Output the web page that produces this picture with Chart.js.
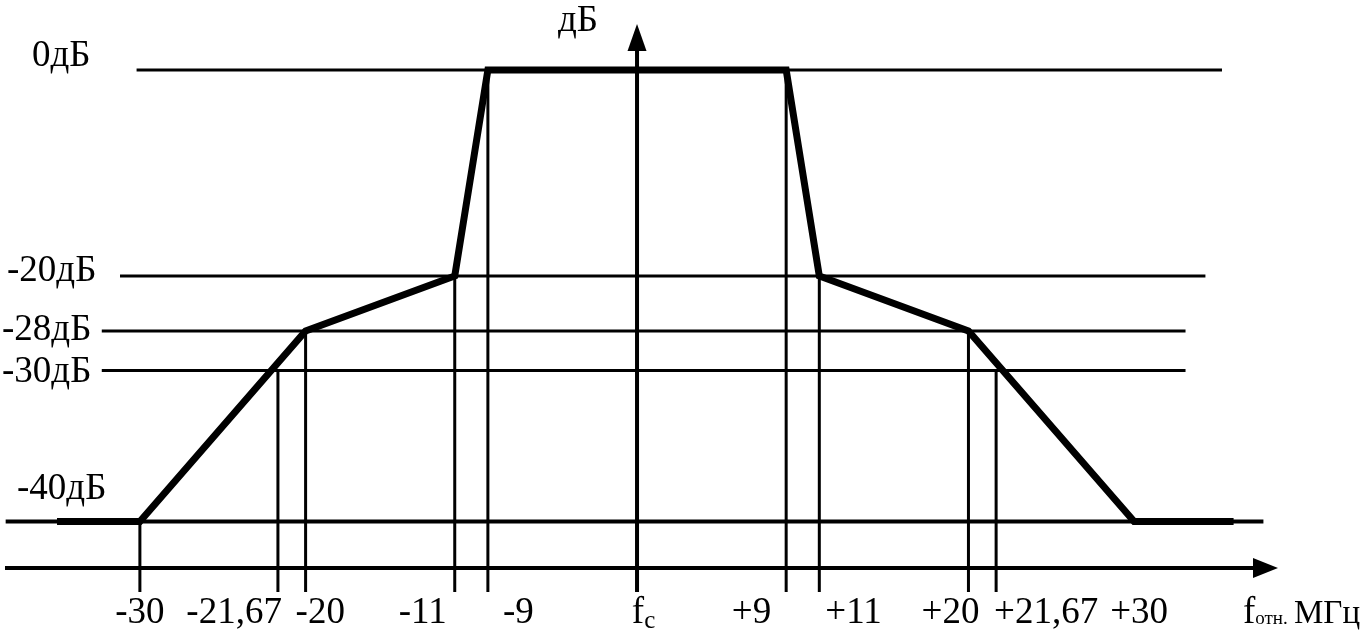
<!DOCTYPE html>
<html>
<head>
<meta charset="utf-8">
<script src="https://cdn.jsdelivr.net/npm/chart.js@4.4.0/dist/chart.umd.min.js"></script>
<style>
  html, body { margin: 0; padding: 0; background: #fff; }
</style>
</head>
<body>
<canvas id="mask" width="1360" height="633"></canvas>
<script>
// spectrum mask: level in dB against offset from the carrier, MHz
const maskMHz = [-35, -30, -20, -11, -9, 9, 11, 20, 30, 36];
const maskDb  = [-40, -40, -28, -20, 0, 0, -20, -28, -40, -40];

// reference levels and how far their lines run (MHz)
const levelDb    = [0, -20, -28, -30, -40];
const levelNames = ['0дБ', '-20дБ', '-28дБ', '-30дБ', '-40дБ'];
const levelFrom  = [-30.2, -31.2, -32.3, -32.3, -38.1];
const levelTo    = [35.3, 34.3, 33.1, 33.1, 37.8];

// thin drop lines from the mask down past the frequency axis
const dropMHz = [-30, -21.67, -20, -11, -9, 9, 11, 20, 21.67];
const dropDb  = [-40, -30, -28, -20, 0, 0, -20, -28, -30];

// frequency tick labels ("_" starts a subscript)
const tickMHz    = [-30, -21.67, -20, -11, -9, 0, 9, 11, 20, 21.67, 30];
const tickLabels = ['-30', '-21,67', '-20', '-11', '-9', 'f_c', '+9', '+11', '+20', '+21,67', '+30'];

const floorDb = -45;   // bottom of the drawing
const axisDb = -43.3;  // where the frequency axis sits

const FONT = '"Liberation Serif", "Times New Roman", serif';

// the level axis of the original is not to scale, so map dB piecewise
class BandScale extends Chart.LinearScale {
  getPixelForValue(value) {
    const k = this.options.knots, s = this.options.stops;
    let i = 0;
    while (i < k.length - 2 && value < k[i + 1]) i++;
    const t = (value - k[i]) / (k[i + 1] - k[i]);
    const f = s[i] + t * (s[i + 1] - s[i]);
    return this.top + f * (this.bottom - this.top);
  }
  getValueForPixel(pixel) {
    const k = this.options.knots, s = this.options.stops;
    const f = (pixel - this.top) / (this.bottom - this.top);
    let i = 0;
    while (i < s.length - 2 && f > s[i + 1]) i++;
    const t = (f - s[i]) / (s[i + 1] - s[i]);
    return k[i] + t * (k[i + 1] - k[i]);
  }
}
BandScale.id = 'band';
BandScale.defaults = Chart.LinearScale.defaults;
Chart.register(BandScale);

function drawText(ctx, text, x, y, align, size, subSize, subDrop) {
  const parts = text.split('_');
  subSize = subSize || Math.round(size * 0.68);
  subDrop = subDrop === undefined ? 5 : subDrop;
  ctx.font = size + 'px ' + FONT;
  const mainW = ctx.measureText(parts[0]).width;
  let subW = 0;
  if (parts[1]) {
    ctx.font = subSize + 'px ' + FONT;
    subW = ctx.measureText(parts[1]).width;
  }
  let left = x;
  if (align === 'center') left = x - mainW / 2;
  if (align === 'right') left = x - mainW - subW;
  ctx.textAlign = 'left';
  ctx.textBaseline = 'alphabetic';
  ctx.font = size + 'px ' + FONT;
  ctx.fillText(parts[0], left, y);
  if (parts[1]) {
    ctx.font = subSize + 'px ' + FONT;
    ctx.fillText(parts[1], left + mainW, y + subDrop);
  }
}

const overlay = {
  id: 'overlay',
  beforeDatasetsDraw(chart) {
    const ctx = chart.ctx, area = chart.chartArea;
    const xs = chart.scales.x, ys = chart.scales.y;
    const x0 = xs.getPixelForValue(0);
    const yAx = ys.getPixelForValue(axisDb);
    ctx.save();
    ctx.strokeStyle = '#000';
    ctx.fillStyle = '#000';
    ctx.lineWidth = 4;
    // level axis with arrow
    ctx.beginPath();
    ctx.moveTo(x0, area.bottom);
    ctx.lineTo(x0, area.top + 20);
    ctx.stroke();
    ctx.beginPath();
    ctx.moveTo(x0, area.top);
    ctx.lineTo(x0 - 9.5, area.top + 27);
    ctx.lineTo(x0 + 9.5, area.top + 27);
    ctx.closePath();
    ctx.fill();
    // frequency axis with arrow
    ctx.beginPath();
    ctx.moveTo(area.left, yAx);
    ctx.lineTo(area.right - 20, yAx);
    ctx.stroke();
    ctx.beginPath();
    ctx.moveTo(area.right, yAx);
    ctx.lineTo(area.right - 25, yAx - 10);
    ctx.lineTo(area.right - 25, yAx + 10);
    ctx.closePath();
    ctx.fill();
    ctx.restore();
  },
  afterDraw(chart, args, opts) {
    const ctx = chart.ctx, area = chart.chartArea;
    const xs = chart.scales.x, ys = chart.scales.y;
    ctx.save();
    ctx.fillStyle = '#000';
    tickMHz.forEach((v, i) => {
      drawText(ctx, tickLabels[i], xs.getPixelForValue(v) + opts.tickNudge[i], 623, opts.tickAlign[i], 37);
    });
    levelDb.forEach((db, i) => {
      drawText(ctx, levelNames[i], opts.levelLeft[i], ys.getPixelForValue(db) + opts.levelDy[i], 'left', 37);
    });
    // axis titles
    drawText(ctx, 'дБ', xs.getPixelForValue(0) - 79, 31, 'left', 37);
    drawText(ctx, 'f_отн.', area.right - 35, 623, 'left', 37, 19, 1);
    drawText(ctx, 'МГц', area.right + 16, 623, 'left', 33);
    ctx.restore();
  }
};

const datasets = [];
datasets.push({
  data: maskMHz.map((x, i) => ({ x, y: maskDb[i] })),
  borderColor: '#000',
  borderWidth: 7,
  borderJoinStyle: 'miter'
});
levelDb.forEach((db, i) => datasets.push({
  data: [{ x: levelFrom[i], y: db }, { x: levelTo[i], y: db }],
  borderColor: '#000',
  borderWidth: i === 4 ? 4 : 3
}));
dropMHz.forEach((x, i) => datasets.push({
  data: [{ x, y: dropDb[i] }, { x, y: floorDb }],
  borderColor: '#000',
  borderWidth: 3
}));

new Chart(document.getElementById('mask'), {
  type: 'line',
  data: { datasets },
  options: {
    responsive: false,
    animation: false,
    events: [],
    layout: { padding: { left: 5, right: 82, top: 24, bottom: 41 } },
    elements: { point: { radius: 0 }, line: { tension: 0, fill: false } },
    scales: {
      x: { type: 'linear', min: -38.14, max: 38.68, display: false },
      y: {
        type: 'band', min: floorDb, max: 5, display: false,
        knots: [5, 0, -20, -28, -30, -40, floorDb],
        stops: [0, 0.081, 0.4437, 0.5405, 0.61, 0.8759, 1]
      }
    },
    plugins: {
      legend: { display: false },
      tooltip: { enabled: false },
      colors: { enabled: false },
      overlay: {
        tickAlign: ['center', 'right', 'left', 'right', 'left', 'center', 'right', 'left', 'right', 'left', 'center'],
        tickNudge: [0, 4, -10, -8, 15, 1, -15, 6, 11, -2, 5],
        levelLeft: [32, 7, 2, 2, 17],
        levelDy: [-4, 5, 9, 11.5, -23]
      }
    }
  },
  plugins: [overlay]
});
</script>
</body>
</html>
